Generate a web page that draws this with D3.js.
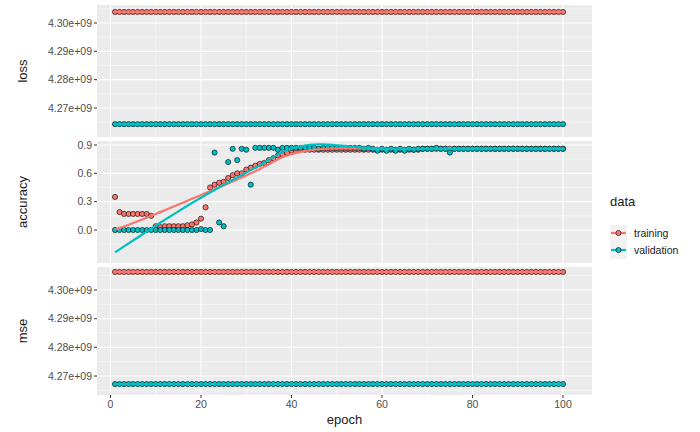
<!DOCTYPE html>
<html><head><meta charset="utf-8">
<script src="https://cdn.jsdelivr.net/npm/d3@7"></script>
<style>body{margin:0;background:#fff}text{font-family:Helvetica,Arial,"Liberation Sans",sans-serif}</style>
</head><body><div id="chart"></div>
<script>
const epochs = d3.range(1, 101)
const lossTrain = 4.3039e9
const lossVal = 4.2643e9
const mseTrain = 4.3063e9
const mseVal = 4.2672e9
const accTrain = [0.35,0.19,0.17,0.17,0.17,0.17,0.17,0.17,0.15,0.04,0.03,0.04,0.04,0.04,0.04,0.04,0.05,0.06,0.08,0.12,0.24,0.45,0.48,0.50,0.51,0.55,0.58,0.60,0.60,0.64,0.66,0.68,0.70,0.71,0.74,0.76,0.79,0.80,0.82,0.84,
  0.84,0.85,0.85,0.85,0.85,0.85,0.85,0.85,0.85,0.85,0.85,0.85,0.85,0.85,0.85,0.85,0.85,0.85,0.85,0.85,0.85,0.85,0.85,0.85,0.85,0.85,0.85,0.85,0.86,0.86,0.86,0.86,0.86,0.86,0.86,0.86,0.86,0.86,0.86,0.86,
  0.86,0.86,0.86,0.86,0.86,0.86,0.86,0.86,0.86,0.86,0.86,0.86,0.86,0.86,0.86,0.86,0.86,0.86,0.86,0.86]
const accVal = [0.0,0.0,0.0,0.0,0.0,0.0,0.0,0.0,0.0,0.0,0.0,0.0,0.0,0.0,0.0,0.0,0.0,0.0,0.0,0.01,0.0,0.0,0.82,0.08,0.04,0.72,0.86,0.74,0.86,0.85,0.48,0.87,0.87,0.87,0.87,0.87,0.85,0.87,0.87,0.87,
  0.87,0.87,0.87,0.87,0.87,0.86,0.87,0.87,0.87,0.87,0.87,0.87,0.87,0.87,0.87,0.86,0.87,0.86,0.84,0.86,0.84,0.86,0.84,0.86,0.84,0.86,0.85,0.86,0.86,0.86,0.86,0.87,0.86,0.86,0.82,0.86,0.86,0.86,0.86,0.86,
  0.86,0.86,0.86,0.86,0.86,0.86,0.86,0.86,0.86,0.86,0.86,0.86,0.86,0.86,0.86,0.86,0.86,0.86,0.86,0.86]
const colors = { training: '#F8766D', validation: '#00BFC4' }

// loess, degree 2, span 0.75 (like geom_smooth default)
function loess(xs, ys, span = 0.75) {
  const n = xs.length, q = Math.floor(span * n)
  return xs.map(x0 => {
    const d = xs.map(x => Math.abs(x - x0))
    const h = d.slice().sort((a, b) => a - b)[q - 1]
    let S = Array(5).fill(0), T = Array(3).fill(0)
    xs.forEach((x, i) => {
      const u = d[i] / h
      if (u >= 1) return
      const w = Math.pow(1 - u * u * u, 3), t = x - x0
      let p = 1
      for (let k = 0; k < 5; k++) { S[k] += w * p; if (k < 3) T[k] += w * p * ys[i]; p *= t }
    })
    const A = [[S[0], S[1], S[2]], [S[1], S[2], S[3]], [S[2], S[3], S[4]]]
    const det = m => m[0][0]*(m[1][1]*m[2][2]-m[1][2]*m[2][1]) - m[0][1]*(m[1][0]*m[2][2]-m[1][2]*m[2][0]) + m[0][2]*(m[1][0]*m[2][1]-m[1][1]*m[2][0])
    const A0 = A.map((r, i) => [T[i], r[1], r[2]])
    return det(A0) / det(A)
  })
}

const width = 700, height = 432
const left = 97, right = 592
const svg = d3.select('#chart').append('svg').attr('width', width).attr('height', height)
const x = d3.scaleLinear().domain([0, 100]).range([110.5, 563])

const flat = (a, b) => [epochs.map(e => a), epochs.map(e => b)]
const panels = [
  { name: 'loss', top: 5, bottom: 137, series: flat(lossTrain, lossVal) },
  { name: 'accuracy', top: 141, bottom: 263, series: [accTrain, accVal], smooth: true },
  { name: 'mse', top: 267, bottom: 395, series: flat(mseTrain, mseVal) }
]
// scales from reading tick positions
panels[0].y = d3.scaleLinear().domain([4.27e9, 4.30e9]).range([108, 23])
panels[1].y = d3.scaleLinear().domain([0, 0.9]).range([230, 145])
panels[2].y = d3.scaleLinear().domain([4.27e9, 4.30e9]).range([376, 290])
panels[0].ticks = [4.27e9, 4.28e9, 4.29e9, 4.30e9]
panels[2].ticks = panels[0].ticks
panels[1].ticks = [0, 0.3, 0.6, 0.9]

panels.forEach(p => {
  const g = svg.append('g')
  g.append('rect').attr('x', left).attr('y', p.top).attr('width', right - left).attr('height', p.bottom - p.top).attr('fill', '#EBEBEB')
  const step = p.ticks[1] - p.ticks[0]
  const minors = [p.ticks[0] - step / 2, ...p.ticks.map(t => t + step / 2)]
  minors.forEach(t => { const yy = p.y(t); if (yy > p.top && yy < p.bottom) g.append('line').attr('x1', left).attr('x2', right).attr('y1', yy).attr('y2', yy).attr('stroke', '#fff').attr('stroke-width', 0.5) })
  ;[10, 30, 50, 70, 90].forEach(t => g.append('line').attr('x1', x(t)).attr('x2', x(t)).attr('y1', p.top).attr('y2', p.bottom).attr('stroke', '#fff').attr('stroke-width', 0.5))
  p.ticks.forEach(t => {
    const yy = p.y(t)
    g.append('line').attr('x1', left).attr('x2', right).attr('y1', yy).attr('y2', yy).attr('stroke', '#fff').attr('stroke-width', 1.1)
    g.append('line').attr('x1', left - 3).attr('x2', left).attr('y1', yy).attr('y2', yy).attr('stroke', '#333')
    const lbl = p.name === 'accuracy' ? d3.format('.1f')(t) : (t / 1e9).toFixed(2) + 'e+09'
    g.append('text').attr('x', left - 5).attr('y', yy).attr('dy', '0.35em').attr('text-anchor', 'end').attr('font-size', 10.5).attr('fill', '#4D4D4D').text(lbl)
  })
  d3.range(0, 101, 20).forEach(t => g.append('line').attr('x1', x(t)).attr('x2', x(t)).attr('y1', p.top).attr('y2', p.bottom).attr('stroke', '#fff').attr('stroke-width', 1.1))
  g.append('text').attr('transform', `translate(22,${(p.top + p.bottom) / 2}) rotate(-90)`).attr('text-anchor', 'middle').attr('dy', '0.35em').attr('font-size', 13).attr('fill', '#1a1a1a').text(p.name)

  const keys = ['training', 'validation']
  p.series.forEach((vals, i) => {
    g.selectAll(null).data(epochs).join('circle')
      .attr('cx', e => x(e)).attr('cy', (e, j) => p.y(vals[j])).attr('r', 2.6)
      .attr('fill', colors[keys[i]]).attr('stroke', '#000').attr('stroke-width', 0.6)
  })
  const sm = p.smooth ? p.series.map(v => loess(epochs, v)) : p.series
  const line = d3.line().x((d, j) => x(epochs[j])).y(d => p.y(d))
  sm.forEach((vals, i) => g.append('path').attr('d', line(vals)).attr('fill', 'none').attr('stroke', colors[keys[i]]).attr('stroke-width', 2.2))
})

d3.range(0, 101, 20).forEach(t => {
  svg.append('line').attr('x1', x(t)).attr('x2', x(t)).attr('y1', 395).attr('y2', 398).attr('stroke', '#333')
  svg.append('text').attr('x', x(t)).attr('y', 408).attr('text-anchor', 'middle').attr('font-size', 10.5).attr('fill', '#4D4D4D').text(t)
})
svg.append('text').attr('x', (left + right) / 2).attr('y', 424).attr('text-anchor', 'middle').attr('font-size', 13).attr('fill', '#1a1a1a').text('epoch')

const lg = svg.append('g')
lg.append('text').attr('x', 610).attr('y', 206).attr('font-size', 13).attr('fill', '#1a1a1a').text('data')
;['training', 'validation'].forEach((k, i) => {
  const cy = 233 + i * 17
  lg.append('rect').attr('x', 610).attr('y', cy - 8).attr('width', 17).attr('height', 17).attr('fill', '#F2F2F2')
  lg.append('line').attr('x1', 611).attr('x2', 626).attr('y1', cy).attr('y2', cy).attr('stroke', colors[k]).attr('stroke-width', 2.2)
  lg.append('circle').attr('cx', 618.5).attr('cy', cy).attr('r', 2.6).attr('fill', colors[k]).attr('stroke', '#000').attr('stroke-width', 0.6)
  lg.append('text').attr('x', 634).attr('y', cy).attr('dy', '0.35em').attr('font-size', 10.5).attr('fill', '#1a1a1a').text(k)
})
</script></body></html>
